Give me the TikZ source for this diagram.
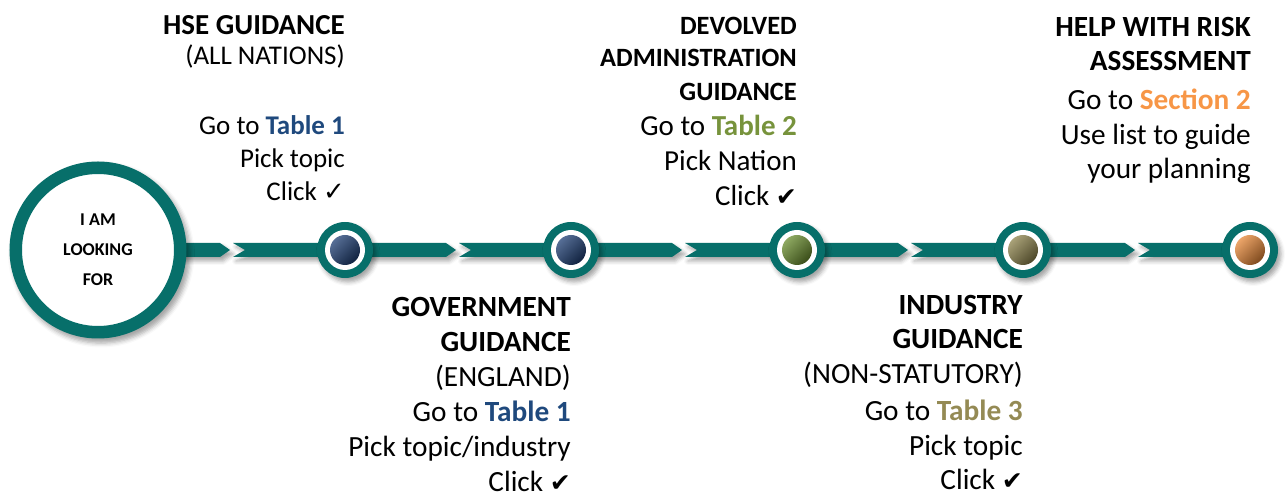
\documentclass[tikz,border=0pt]{standalone}
\usepackage{fontspec}
\setmainfont{Carlito}
\newfontfamily\tickfont{DejaVu Sans}
\usepackage{xcolor}
\usepackage{tikz}
\usetikzlibrary{positioning,calc,backgrounds,shadows.blur}

\definecolor{rail}{RGB}{7,111,106}
\definecolor{tabone}{RGB}{31,73,125}
\definecolor{tabtwo}{RGB}{119,147,60}
\definecolor{tabthree}{RGB}{148,138,84}
\definecolor{sectwo}{RGB}{247,150,70}
\definecolor{knobblue}{RGB}{30,62,115}
\definecolor{knobgreen}{RGB}{105,140,45}
\definecolor{knobolive}{RGB}{140,130,75}
\definecolor{knoborange}{RGB}{230,135,55}

\begin{document}
\begin{tikzpicture}[x=1pt, y=1pt, node distance=226pt,
    soft/.style={blur shadow={shadow xshift=3pt, shadow yshift=-4pt, shadow blur radius=4pt, shadow opacity=35}},
    hub/.style={circle, draw=rail, line width=12.5pt, fill=white, minimum size=164.5pt, inner sep=0pt,
        align=center, font=\bfseries\fontsize{18}{30}\selectfont,
        blur shadow={shadow scale=1.08, shadow xshift=3pt, shadow yshift=-4pt, shadow blur radius=4pt, shadow opacity=35}},
    stop/.style={circle, fill=rail, minimum size=56pt, inner sep=0pt, soft,
        path picture={
            \fill[white] (path picture bounding box.center) circle (20pt);
            \shade[top color=#1!75!white, bottom color=#1!55!black, shading angle=45]
                (path picture bounding box.center) circle (15pt);}},
    note/.style={anchor=north east, align=right, inner sep=0pt, font=\fontsize{29.3}{35.5}\selectfont}]

    \useasboundingbox (0,0) rectangle (1287,497);

    % the hub and the stops
    \node[hub] (look) at (98,247) {I AM\\LOOKING\\FOR};
    \node[stop=knobblue] (n1) at (345,247) {};
    \node[stop=knobblue, right of=n1] (n2) {};
    \node[stop=knobgreen, right of=n2] (n3) {};
    \node[stop=knobolive, right of=n3] (n4) {};
    \node[stop=knoborange, right of=n4, node distance=227pt] (n5) {};

    % arrow points along the rail
    \coordinate[left of=n1, node distance=115pt] (j1);
    \coordinate[right of=n1, node distance=111pt] (j2);
    \coordinate[right of=n2, node distance=111pt] (j3);
    \coordinate[right of=n3, node distance=111pt] (j4);
    \coordinate[right of=n4, node distance=112pt] (j5);

    \begin{scope}[on background layer]
        \fill[rail, soft] ($(look)+(0,7)$) -- ($(j1)+(-10,7)$) -- (j1) -- ($(j1)+(-10,-7)$) -- ($(look)+(0,-7)$) -- cycle;
        \foreach \a/\b in {j1/j2, j2/j3, j3/j4, j4/j5}
            \fill[rail, soft] ($(\a)+(3,7)$) -- ($(\b)+(-10,7)$) -- (\b) -- ($(\b)+(-10,-7)$) -- ($(\a)+(3,-7)$) -- ($(\a)+(15,0)$) -- cycle;
        \fill[rail, soft] ($(j5)+(3,7)$) -- ($(n5)+(0,7)$) -- ($(n5)+(0,-7)$) -- ($(j5)+(3,-7)$) -- ($(j5)+(15,0)$) -- cycle;
    \end{scope}

    % texts
    \node[note, font=\fontsize{27}{33}\selectfont] (hse) at (345,482)
        {{\fontsize{29}{33}\selectfont\bfseries HSE GUIDANCE}\\[-3pt](ALL NATIONS)\\[37pt]Go to \textcolor{tabone}{\textbf{Table 1}}\\Pick topic\\Click {\tickfont\fontsize{26}{26}\selectfont ✓}};
    \node[note, font=\fontsize{29.3}{35}\selectfont] (gov) at (571,200)
        {\textbf{GOVERNMENT}\\\textbf{GUIDANCE}\\(ENGLAND)\\Go to \textcolor{tabone}{\textbf{Table 1}}\\Pick topic/industry\\Click {\tickfont\fontsize{25}{25}\selectfont ✔}};
    \node[note, font=\fontsize{29}{35}\selectfont] (dev) at (797,480)
        {{\fontsize{26.4}{33}\selectfont\bfseries DEVOLVED}\\[-3pt]{\fontsize{26.4}{33}\selectfont\bfseries ADMINISTRATION}\\[-1pt]{\fontsize{26.4}{33}\selectfont\bfseries GUIDANCE}\\Go to \textcolor{tabtwo}{\textbf{Table 2}}\\Pick Nation\\Click {\tickfont\fontsize{25}{25}\selectfont ✔}};
    \node[note] (ind) at (1023,202)
        {\textbf{INDUSTRY}\\[-1pt]\textbf{GUIDANCE}\\[-1pt](NON-STATUTORY)\\[2pt]Go to \textcolor{tabthree}{\textbf{Table 3}}\\[-1pt]Pick topic\\[-1pt]Click {\tickfont\fontsize{25}{25}\selectfont ✔}};
    \node[note] (risk) at (1251,480)
        {\textbf{HELP WITH RISK}\\[-1pt]\textbf{ASSESSMENT}\\[3pt]Go to \textcolor{sectwo}{\textbf{Section 2}}\\Use list to guide\\[-2pt]your planning};
\end{tikzpicture}
\end{document}
